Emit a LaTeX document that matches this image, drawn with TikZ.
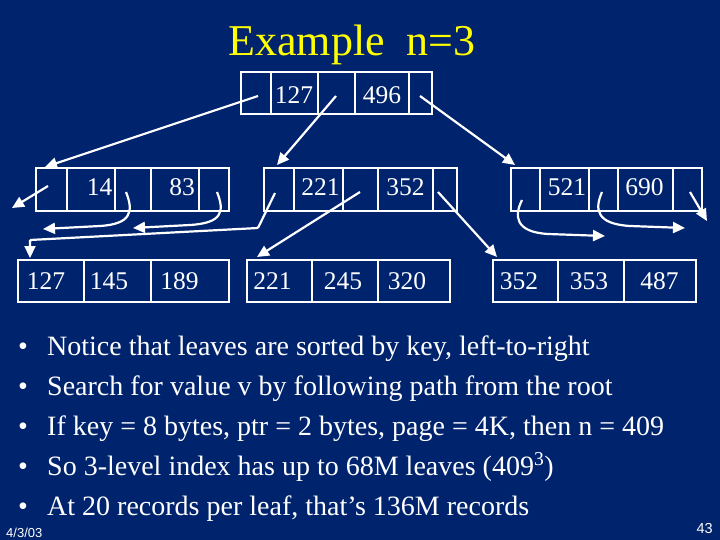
\documentclass[tikz,border=0pt]{standalone}
\usepackage{fontspec}
\setmainfont{Liberation Serif}
\newfontfamily\arialfont{Liberation Sans}
\usetikzlibrary{arrows.meta}
\definecolor{bg}{RGB}{0,35,110}
\definecolor{titleyellow}{RGB}{255,255,0}
\begin{document}
\begin{tikzpicture}[x=1pt,y=-1pt,
  cell/.style={draw=white,line width=1.2pt},
  num/.style={text=white,font=\fontsize{25.5}{26}\selectfont,inner sep=0pt},
  ptr/.style={draw=white,line width=2.2pt,-{Triangle[length=12pt,width=11pt]}},
  bul/.style={text=white,font=\fontsize{28}{32}\selectfont,inner sep=0pt,anchor=base west},
  dot/.style={text=white,font=\fontsize{28}{32}\selectfont,inner sep=0pt,anchor=base},
  ]
\fill[bg] (0,0) rectangle (720,540);
\useasboundingbox (0,0) rectangle (720,540);

% title
\node[text=titleyellow,font=\fontsize{44}{48}\selectfont,inner sep=0pt,anchor=base] (title) at (352,56) {Example\ \ n=3};

% root node
\draw[cell] (241,72) rectangle (432,114);
\foreach \x in {271,318,355,409} \draw[cell] (\x,72) -- (\x,114);
\node[num] (r127) at (294,95) {127};
\node[num] (r496) at (382,95) {496};

% level 2 left
\draw[cell] (36,168) rectangle (229,211);
\foreach \x in {67,115,151,199} \draw[cell] (\x,168) -- (\x,211);
\node[num] (a14) at (99.5,187.5) {14};
\node[num] (a83) at (182,187.5) {83};

% level 2 middle
\draw[cell] (264,168) rectangle (457,211);
\foreach \x in {294,343,378,433} \draw[cell] (\x,168) -- (\x,211);
\node[num] (b221) at (320.5,187.5) {221};
\node[num] (b352) at (405.5,187.5) {352};

% level 2 right
\draw[cell] (511,168) rectangle (702,211);
\foreach \x in {540,589,618,673} \draw[cell] (\x,168) -- (\x,211);
\node[num] (c521) at (567,187.5) {521};
\node[num] (c690) at (644.5,187.5) {690};

% leaves
\draw[cell] (18,260) rectangle (229,302);
\foreach \x in {84,151} \draw[cell] (\x,260) -- (\x,302);
\node[num] (l127) at (46,281) {127};
\node[num] (l145) at (109,281) {145};
\node[num] (l189) at (179.5,281) {189};

\draw[cell] (247,260) rectangle (450,302);
\foreach \x in {312,378} \draw[cell] (\x,260) -- (\x,302);
\node[num] (l221) at (272.5,281) {221};
\node[num] (l245) at (343,281) {245};
\node[num] (l320) at (407,281) {320};

\draw[cell] (493,260) rectangle (696,302);
\foreach \x in {558,624} \draw[cell] (\x,260) -- (\x,302);
\node[num] (l352) at (519,281) {352};
\node[num] (l353) at (589,281) {353};
\node[num] (l487) at (659.5,281) {487};

% pointer coordinates
\coordinate (rp1) at (258,96);
\coordinate (rp2) at (336,96);
\coordinate (rp3) at (420,96);
\coordinate (aT) at (45,167);
\coordinate (bT) at (277,165);
\coordinate (cT) at (515,165);

\coordinate (ap1) at (48,186);
\coordinate (ap1e) at (12,208);
\coordinate (ap2) at (126,192);
\coordinate (ap2e) at (43,229);
\coordinate (ap3) at (217,192);
\coordinate (ap3e) at (133,228);

\coordinate (bp1) at (275,193);
\coordinate (bk1) at (258,228);
\coordinate (bk2) at (30,240);
\coordinate (leaf1T) at (30,258);
\coordinate (bp2) at (360,192);
\coordinate (leaf2T) at (257,257);
\coordinate (bp3) at (438,192);
\coordinate (leaf3T) at (497,257);

\coordinate (cp1) at (522,200);
\coordinate (cp1e) at (605,236);
\coordinate (cp2) at (602,192);
\coordinate (cp2e) at (685,228);
\coordinate (cp3) at (690,192);
\coordinate (cp3e) at (707,221);

% root pointers
\draw[ptr] (rp1) -- (aT);
\draw[ptr] (rp2) -- (bT);
\draw[ptr] (rp3) -- (cT);

% left node pointers
\draw[ptr] (ap1) -- (ap1e);
\draw[ptr] (ap2) .. controls (134,212) and (131,224) .. (100,226) -- (ap2e);
\draw[ptr] (ap3) .. controls (225,212) and (222,223) .. (190,225) -- (ap3e);

% middle node pointers
\draw[ptr,rounded corners=1pt] (bp1) -- (bk1) -- (bk2) -- (leaf1T);
\draw[ptr] (bp2) -- (leaf2T);
\draw[ptr] (bp3) -- (leaf3T);

% right node pointers
\draw[ptr] (cp1) .. controls (514,216) and (515,232) .. (548,234) -- (cp1e);
\draw[ptr] (cp2) .. controls (594,210) and (597,224) .. (630,226) -- (cp2e);
\draw[ptr] (cp3) -- (cp3e);

% bullets
\node[dot] (d1) at (23,355) {•};
\node[dot] (d2) at (23,395) {•};
\node[dot] (d3) at (23,435) {•};
\node[dot] (d4) at (23,475) {•};
\node[dot] (d5) at (23,515) {•};
\node[bul] (t1) at (47,355) {Notice that leaves are sorted by key, left-to-right};
\node[bul] (t2) at (47,395) {Search for value v by following path from the root};
\node[bul] (t3) at (47,435) {If key = 8 bytes, ptr = 2 bytes, page = 4K, then n = 409};
\node[bul] (t4) at (47,475) {So 3-level index has up to 68M leaves (409\textsuperscript{3})};
\node[bul] (t5) at (47,515) {At 20 records per leaf, that’s 136M records};

% footer
\node[text=white,font=\arialfont\fontsize{13}{14}\selectfont,inner sep=0pt,anchor=base west] (date) at (6,537) {4/3/03};
\node[text=white,font=\arialfont\fontsize{14.5}{15}\selectfont,inner sep=0pt,anchor=base east] (page) at (713,533) {43};
\end{tikzpicture}
\end{document}
